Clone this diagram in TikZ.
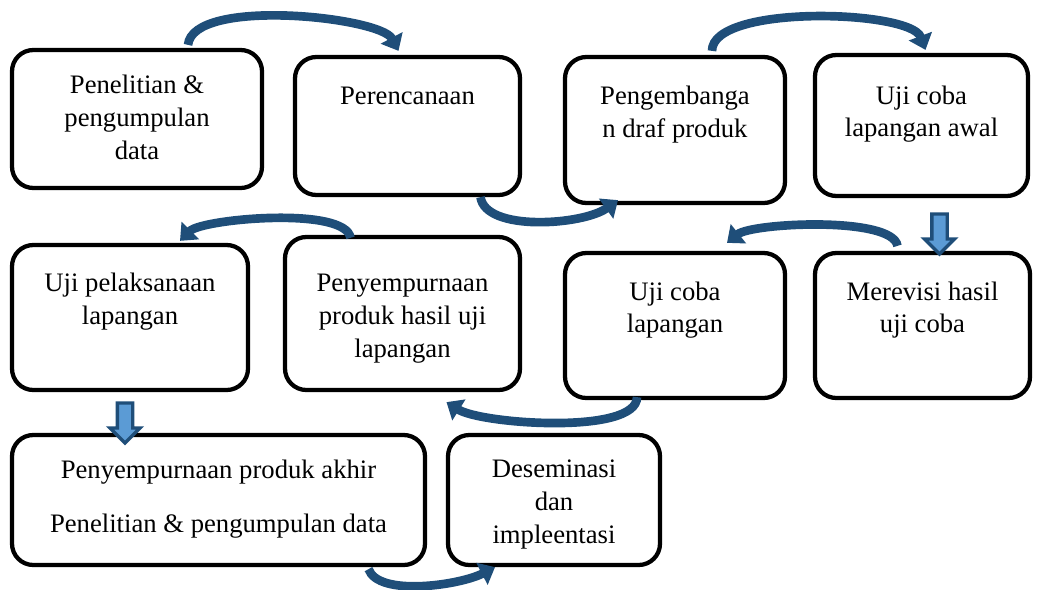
\documentclass[tikz,border=0pt]{standalone}
\usepackage{fontspec}
\setmainfont{Liberation Serif}
\usetikzlibrary{arrows.meta,positioning,calc,shapes.arrows}
\definecolor{DeepBlue}{HTML}{1F4E79}
\definecolor{SoftBlue}{HTML}{5B9BD5}
\tikzset{
  panel/.style={draw=black,line width=3.2pt,rounded corners=16pt,fill=white},
  caption/.style={align=center,anchor=north,inner sep=0pt,
                  font=\fontsize{20}{24.5}\selectfont},
  swing/.style={-{Triangle[length=11pt,width=18pt]},line width=6.5pt,draw=DeepBlue},
  drop/.style={single arrow,single arrow head extend=5.5pt,inner xsep=0pt,inner ysep=4.5pt,
               minimum height=30pt,fill=SoftBlue,draw=DeepBlue,
               line width=2.5pt,rotate=-90}
}

\begin{document}
\begin{tikzpicture}[x=0.75pt,y=-0.75pt]
  \useasboundingbox (0,0) rectangle (1041,589);

  % first row
  \node[panel,minimum width=187.5pt,minimum height=103.5pt] (research) at (137,119) {};
  \node[panel,minimum width=168.75pt,minimum height=103.5pt] (planning) at (407.5,126) {};
  \node[panel,minimum width=165pt,minimum height=109.5pt] (develop) at (675,130) {};
  \node[panel,minimum width=159.75pt,minimum height=105.75pt] (fieldinit) at (921.5,125.5) {};
  % second row
  \node[panel,minimum width=177pt,minimum height=108.75pt] (fieldimpl) at (130,317.5) {};
  \node[panel,minimum width=176.25pt,minimum height=114.75pt] (refinefield) at (402.5,313.5) {};
  \node[panel,minimum width=165pt,minimum height=108.75pt] (fieldtest) at (675,325.5) {};
  \node[panel,minimum width=161.25pt,minimum height=108.75pt] (revise) at (922.5,325.5) {};
  % third row
  \node[panel,minimum width=309.75pt,minimum height=97.5pt] (finalprod) at (218.5,500) {};
  \node[panel,minimum width=159pt,minimum height=97.5pt] (dissem) at (554,500) {};

  \node[caption,below=20.5pt of research.north] (research-t) {Penelitian \&\\pengumpulan\\data};
  \node[caption,below=23.8pt of planning.north] (planning-t) {Perencanaan};
  \node[caption,below=23.3pt of develop.north] (develop-t) {Pengembanga\\n draf produk};
  \node[caption,below=24.3pt of fieldinit.north] (fieldinit-t) {Uji coba\\lapangan awal};
  \node[caption,below=22.3pt of fieldimpl.north] (fieldimpl-t) {Uji pelaksanaan\\lapangan};
  \node[caption,below=29.3pt of refinefield.north] (refinefield-t) {Penyempurnaan\\produk hasil uji\\lapangan};
  \node[caption,below=22.8pt of fieldtest.north] (fieldtest-t) {Uji coba\\lapangan};
  \node[caption,below=22.8pt of revise.north] (revise-t) {Merevisi hasil\\uji coba};
  \node[caption,below=20.3pt of finalprod.north] (finalprod-t) {Penyempurnaan produk akhir\\[16pt]Penelitian \& pengumpulan data};
  \node[caption,below=20.3pt of dissem.north] (dissem-t) {Deseminasi\\dan\\impleentasi};

  % straight drops
  \node[drop] (drop-a) at ($(fieldinit.south)+(18,32)$) {};
  \node[drop] (drop-b) at ($(fieldimpl.south)+(-5,27)$) {};

  % curved hand-overs
  \draw[swing] ($(research.north)+(51,-3)$) .. controls +(5,-48) and +(-18,-34) .. ($(planning.north)+(-9,-4)$);
  \draw[swing] ($(planning.south)+(73,0)$) .. controls +(5,35) and +(-35,25) .. ($(develop.south)+(-57,-5)$);
  \draw[swing] ($(develop.north)+(37,-4)$) .. controls +(0,-47) and +(-15,-40) .. ($(fieldinit.north)+(4,-3)$);
  \draw[swing] ($(revise.north)+(-25,-5)$) .. controls +(-5,-30) and +(25,-20) .. ($(fieldtest.north)+(52,-8)$);
  \draw[swing] ($(fieldtest.south)+(-38,-3)$) .. controls +(0,38) and +(35,22) .. ($(refinefield.south)+(44,10)$);
  \draw[swing] ($(refinefield.north)+(-52,3)$) .. controls +(-5,-32) and +(22,-22) .. ($(fieldimpl.north)+(50,-2)$);
  \draw[swing] ($(finalprod.south)+(150,2)$) .. controls +(10,28) and +(-35,18) .. ($(dissem.south)+(-59,0)$);
\end{tikzpicture}
\end{document}
